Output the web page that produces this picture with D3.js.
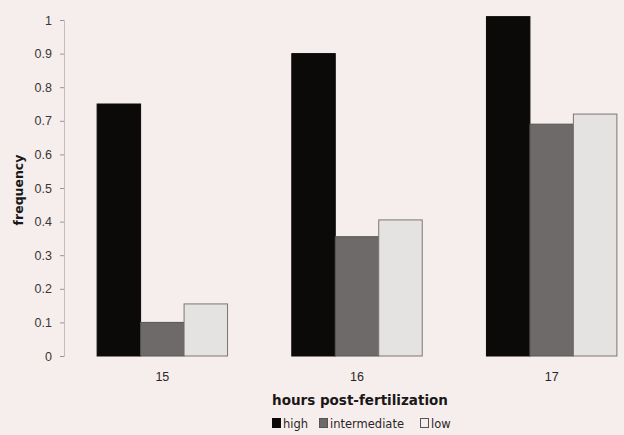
<!DOCTYPE html>
<html>
<head>
<meta charset="utf-8">
<script src="https://cdn.jsdelivr.net/npm/d3@7"></script>
<style>
  body { margin: 0; background: #f6eeed; }
  svg { display: block; font-family: "DejaVu Sans", sans-serif; }
</style>
</head>
<body>
<script>
// chart data
var hours = ["15", "16", "17"];
var levels = ["high", "intermediate", "low"];
var high = [0.75, 0.9, 1.01];
var intermediate = [0.1, 0.355, 0.69];
var low = [0.155, 0.405, 0.72];
var yTicks = [0, 0.1, 0.2, 0.3, 0.4, 0.5, 0.6, 0.7, 0.8, 0.9, 1];

var series = { high: high, intermediate: intermediate, low: low };
var colors = { high: "#0c0909", intermediate: "#6e6a6a", low: "#e5e2e2" };
var strokes = { high: "#0c0909", intermediate: "#555", low: "#7a7676" };

var w = 624, h = 435;
var svg = d3.select("body").append("svg")
  .attr("width", w)
  .attr("height", h);

svg.append("rect").attr("width", w).attr("height", h).attr("fill", "#f6eeed");

var xScale = d3.scaleBand()
  .domain(hours)
  .range([65, 649])
  .paddingInner(0.33)
  .paddingOuter(0.165);

var xInner = d3.scaleBand()
  .domain(levels)
  .range([0, xScale.bandwidth()]);

var yScale = d3.scaleLinear()
  .domain([0, 1])
  .range([356, 20]);

// y axis
var yAxis = d3.axisLeft(yScale)
  .tickValues(yTicks)
  .tickSize(4)
  .tickPadding(8)
  .tickFormat(function (d) { return d3.format("")(d); });

var gy = svg.append("g")
  .attr("transform", "translate(64,0)")
  .call(yAxis);
gy.select(".domain").attr("stroke", "#c2bcbc");
gy.selectAll(".tick line").attr("stroke", "#9a9494");
gy.selectAll(".tick text")
  .attr("fill", "#3a3636")
  .style("font-size", "12.5px");

svg.append("text")
  .attr("transform", "translate(19,190) rotate(-90)")
  .attr("text-anchor", "middle")
  .attr("dy", ".35em")
  .style("font-size", "12.5px")
  .style("font-weight", "bold")
  .attr("fill", "#1a1717")
  .text("frequency");

// bars
var groups = svg.selectAll(".grp")
  .data(hours)
  .enter()
  .append("g")
  .attr("class", "grp")
  .attr("transform", function (d) { return "translate(" + xScale(d) + ",0)"; });

groups.selectAll("rect")
  .data(function (d, i) {
    return levels.map(function (k) { return { key: k, value: series[k][i] }; });
  })
  .enter()
  .append("rect")
  .attr("x", function (d) { return xInner(d.key); })
  .attr("y", function (d) { return yScale(d.value); })
  .attr("width", xInner.bandwidth())
  .attr("height", function (d) { return yScale(0) - yScale(d.value); })
  .attr("fill", function (d) { return colors[d.key]; })
  .attr("stroke", function (d) { return strokes[d.key]; })
  .attr("stroke-width", 1);

// x axis
var xAxis = d3.axisBottom(xScale).tickSize(0).tickPadding(12);
var gx = svg.append("g")
  .attr("transform", "translate(0,360)")
  .call(xAxis);
gx.select(".domain").remove();
gx.selectAll(".tick text")
  .attr("fill", "#2a2626")
  .style("font-size", "12.5px");

svg.append("text")
  .attr("x", 360)
  .attr("y", 405)
  .attr("text-anchor", "middle")
  .style("font-size", "13.5px")
  .style("font-weight", "bold")
  .attr("fill", "#1a1717")
  .text("hours post-fertilization");

// legend
var legend = svg.append("g").attr("transform", "translate(272,418)");
var offsets = [0, 47, 148];
levels.forEach(function (k, i) {
  var item = legend.append("g").attr("transform", "translate(" + offsets[i] + ",0)");
  item.append("rect")
    .attr("x", 0.5).attr("y", 0.5)
    .attr("width", 8).attr("height", 9)
    .attr("fill", k === "low" ? "#f6eeed" : colors[k])
    .attr("stroke", k === "high" ? colors[k] : "#555");
  item.append("text")
    .attr("x", 11)
    .attr("y", 9.5)
    .style("font-size", "11.5px")
    .attr("fill", "#2a2626")
    .text(k);
});
</script>
</body>
</html>
